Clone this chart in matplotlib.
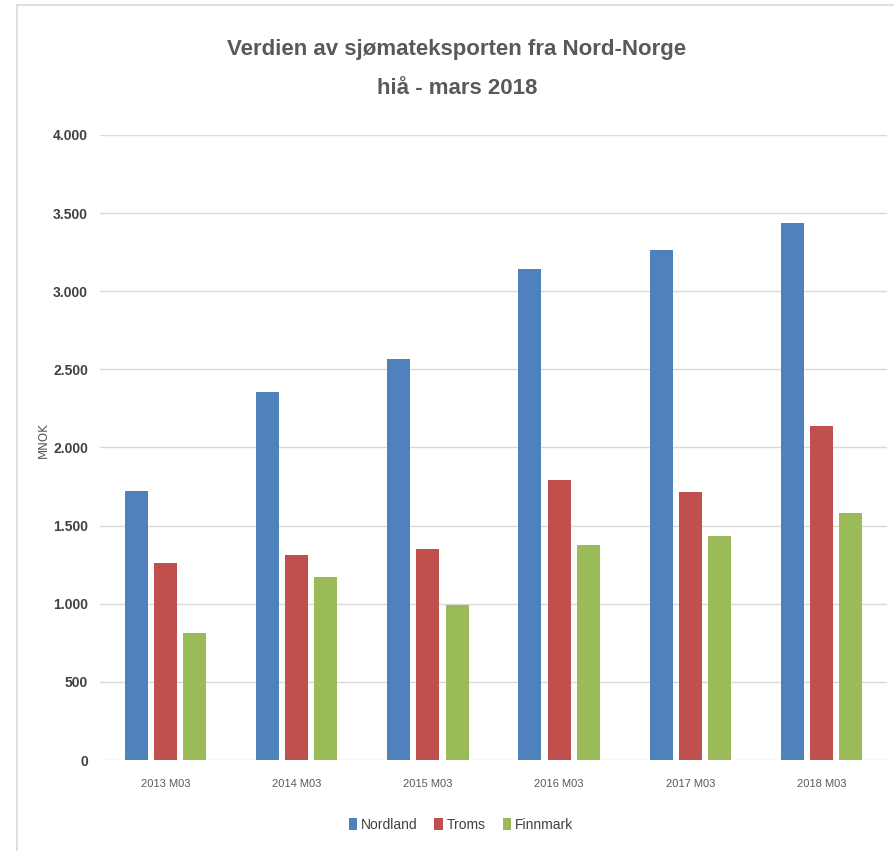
import matplotlib
matplotlib.use("Agg")
import matplotlib.pyplot as plt
from matplotlib.lines import Line2D
from matplotlib.ticker import FuncFormatter
import numpy as np

categories = ["2013 M03", "2014 M03", "2015 M03", "2016 M03", "2017 M03", "2018 M03"]
nordland = [1720, 2355, 2565, 3140, 3265, 3435]
troms = [1262, 1310, 1350, 1792, 1715, 2138]
finnmark = [812, 1170, 990, 1376, 1432, 1580]
series_names = ["Nordland", "Troms", "Finnmark"]
colors = ["#4F81BD", "#C0504D", "#9BBB59"]

W, H = 894, 851
fig = plt.figure(figsize=(W/100, H/100), dpi=100)
fam = ["Liberation Sans Narrow", "Liberation Sans", "DejaVu Sans"]

ax = fig.add_axes([100/W, 1-760/H, (887-100)/W, (760-135)/H])
x = np.arange(len(categories))
step = 0.222
width = 0.175
for i, (vals, name, c) in enumerate(zip([nordland, troms, finnmark], series_names, colors)):
    ax.bar(x + (i-1)*step, vals, width, color=c, label=name, zorder=3)

ax.set_xlim(-0.5, len(categories)-0.5)
ax.set_ylim(0, 4000)
ax.set_yticks(np.arange(0, 4001, 500))
ax.yaxis.set_major_formatter(FuncFormatter(lambda v, p: f"{int(v):,}".replace(",", ".")))
ax.grid(axis="y", color="#D9D9D9", linewidth=1, zorder=0)
for s in ax.spines.values():
    s.set_visible(False)
ax.tick_params(axis="both", length=0)
ax.tick_params(axis="y", pad=8.5)
ax.tick_params(axis="x", pad=14)
ax.set_xticks(x)
ax.set_xticklabels(categories, fontsize=8, color="#595959", family=fam)
for t in ax.get_yticklabels():
    t.set_fontsize(10)
    t.set_color("#404040")
    t.set_family(fam)
    t.set_fontweight("bold")
ax.set_ylabel("MNOK", fontsize=8.5, color="#595959")
ax.yaxis.set_label_coords((50-100)/787, (760-440)/625)

fig.text(457/W, 1-49/H, "Verdien av sjømateksporten fra Nord-Norge", ha="center", va="center",
         fontsize=16, fontweight="bold", color="#595959", family=fam)
fig.text(457/W, 1-89/H, "hiå - mars 2018", ha="center", va="center",
         fontsize=16, fontweight="bold", color="#595959", family=fam)

leg = ax.legend(loc="center", bbox_to_anchor=(461/W, 1-825/H), bbox_transform=fig.transFigure,
                ncol=3, frameon=False, handlelength=0.6, handleheight=0.9, handletextpad=0.3,
                columnspacing=1.2, prop={"family": fam, "size": 10})
for t in leg.get_texts():
    t.set_color("#404040")

fig.add_artist(Line2D([17/W, 17/W], [0, 1-5/H], color="#D9D9D9", lw=1.2, transform=fig.transFigure))
fig.add_artist(Line2D([17/W, 1], [1-5/H, 1-5/H], color="#D9D9D9", lw=1.2, transform=fig.transFigure))

fig.savefig("out.png", dpi=100)
